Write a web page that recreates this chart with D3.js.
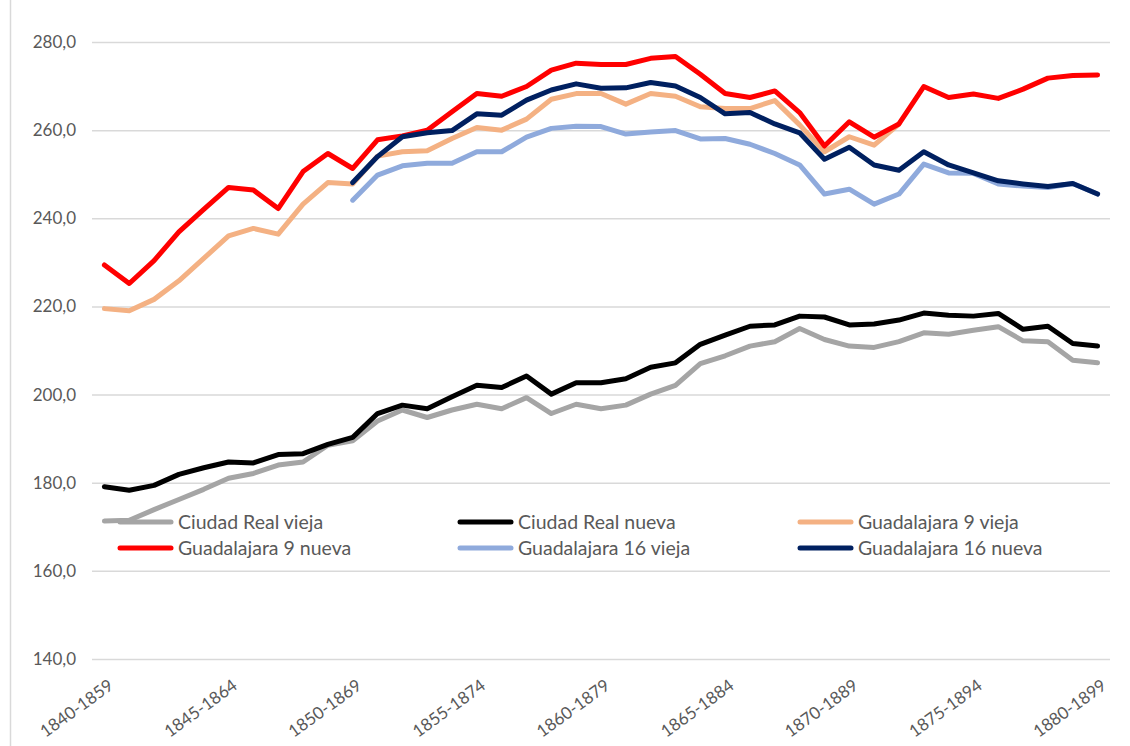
<!DOCTYPE html>
<html>
<head>
<meta charset="utf-8">
<script src="https://cdn.jsdelivr.net/npm/d3@7"></script>
<style>
  body { margin: 0; background: #fff; }
  svg { display: block; font-family: Lato, "Liberation Sans", sans-serif; }
</style>
</head>
<body>
<div class="dataviz"><svg></svg></div>
<script>
const categorias = [
    "1840-1859", "1841-1860", "1842-1861", "1843-1862", "1844-1863",
    "1845-1864", "1846-1865", "1847-1866", "1848-1867", "1849-1868",
    "1850-1869", "1851-1870", "1852-1871", "1853-1872", "1854-1873",
    "1855-1874", "1856-1875", "1857-1876", "1858-1877", "1859-1878",
    "1860-1879", "1861-1880", "1862-1881", "1863-1882", "1864-1883",
    "1865-1884", "1866-1885", "1867-1886", "1868-1887", "1869-1888",
    "1870-1889", "1871-1890", "1872-1891", "1873-1892", "1874-1893",
    "1875-1894", "1876-1895", "1877-1896", "1878-1897", "1879-1898",
    "1880-1899"
]

const ciudadRealVieja = [171.3, 171.5, 173.9, 176.2, 178.5, 181.0, 182.1, 184.0, 184.7, 188.5,
    189.5, 194.0, 196.5, 194.8, 196.5, 197.8, 196.8, 199.3, 195.7, 197.8,
    196.8, 197.6, 200.1, 202.1, 207.0, 208.8, 211.0, 212.0, 215.0, 212.5,
    211.0, 210.7, 212.0, 214.0, 213.7, 214.6, 215.4, 212.2, 212.0, 207.8, 207.2]

const ciudadRealNueva = [179.1, 178.3, 179.4, 181.9, 183.4, 184.7, 184.5, 186.4, 186.6, 188.7,
    190.3, 195.7, 197.6, 196.8, 199.5, 202.1, 201.6, 204.2, 200.1, 202.7,
    202.7, 203.6, 206.2, 207.2, 211.4, 213.5, 215.5, 215.8, 217.8, 217.6,
    215.8, 216.0, 216.9, 218.5, 218.0, 217.8, 218.4, 214.8, 215.5, 211.6, 211.0]

const guada9Vieja = [219.5, 219.0, 221.6, 225.8, 230.9, 236.0, 237.7, 236.4, 243.2, 248.1,
    247.8, 254.1, 255.1, 255.3, 258.1, 260.6, 260.0, 262.5, 267.0, 268.3,
    268.3, 265.9, 268.3, 267.7, 265.3, 264.9, 264.9, 266.7, 261.2, 255.1,
    258.5, 256.6, 261.4, null, null, null, null, null, null, null, null]

const guada9Nueva = [229.4, 225.2, 230.4, 236.9, 242.0, 247.0, 246.4, 242.2, 250.6, 254.7,
    251.3, 257.8, 258.7, 260.0, 264.2, 268.3, 267.7, 269.9, 273.6, 275.2,
    274.9, 274.9, 276.3, 276.7, 272.7, 268.3, 267.4, 268.9, 264.0, 256.4,
    261.9, 258.4, 261.4, 269.9, 267.4, 268.2, 267.2, 269.3, 271.8, 272.4, 272.5]

const guada16Vieja = [null, null, null, null, null, null, null, null, null, null,
    244.1, 249.8, 251.9, 252.5, 252.5, 255.1, 255.1, 258.4, 260.4, 260.9,
    260.8, 259.1, 259.6, 259.9, 258.0, 258.1, 256.8, 254.7, 252.1, 245.5,
    246.6, 243.2, 245.5, 252.3, 250.3, 250.2, 247.8, 247.3, 247.0, 247.9, 245.5]

const guada16Nueva = [null, null, null, null, null, null, null, null, null, null,
    248.1, 254.0, 258.5, 259.4, 259.9, 263.7, 263.4, 266.8, 269.1, 270.5,
    269.5, 269.6, 270.8, 270.0, 267.4, 263.7, 264.0, 261.4, 259.4, 253.4,
    256.1, 252.1, 250.9, 255.1, 252.1, 250.3, 248.5, 247.8, 247.2, 247.9, 245.5]

const nombres = ["Ciudad Real vieja", "Ciudad Real nueva", "Guadalajara 9 vieja",
    "Guadalajara 9 nueva", "Guadalajara 16 vieja", "Guadalajara 16 nueva"]
const colores = ["#a5a5a5", "#000000", "#f4b183", "#ff0000", "#8faadc", "#002060"]
const yTicks = [140, 160, 180, 200, 220, 240, 260, 280]

var width = 1130,
    height = 746
var margin = { top: 42, right: 20, bottom: 87, left: 92 }

var series = [ciudadRealVieja, ciudadRealNueva, guada9Vieja, guada9Nueva, guada16Vieja, guada16Nueva]
    .map((vals, k) => ({ nombre: nombres[k], color: colores[k], vals: vals }))

var coma = d3.formatLocale({ decimal: ",", thousands: ".", grouping: [3], currency: ["", "€"] }).format(".1f")

var x = d3.scaleBand()
    .domain(categorias)
    .range([margin.left, width - margin.right])
    .padding(0)
var y = d3.scaleLinear()
    .domain([140, 280])
    .range([height - margin.bottom, margin.top])

var svg = d3.select(".dataviz > svg")
    .attr("width", width)
    .attr("height", height)
    .attr("viewBox", [0, 0, width, height])

// borde izquierdo del area del grafico
svg.append("line")
    .attr("x1", 10.5).attr("x2", 10.5)
    .attr("y1", 0).attr("y2", height)
    .attr("stroke", "#d9d9d9")
    .attr("stroke-width", 1.5)

// eje y con lineas de rejilla
svg.append("g")
    .attr("transform", `translate(${margin.left},0)`)
    .call(d3.axisLeft(y).tickValues(yTicks).tickFormat(coma)
        .tickSize(-(width - margin.left - margin.right)).tickPadding(16))
    .call(g => g.select(".domain").remove())
    .call(g => g.selectAll(".tick line").attr("stroke", "#d9d9d9").attr("stroke-width", 1.5))
    .call(g => g.selectAll(".tick text")
        .attr("fill", "#595959")
        .attr("font-size", "17px")
        .attr("font-family", "Lato, 'Liberation Sans', sans-serif"))

// eje x, etiqueta cada 5 categorias
var xAxis = svg.append("g")
    .attr("transform", `translate(0,${height - margin.bottom})`)
    .call(d3.axisBottom(x).tickValues(categorias.filter((d, i) => i % 5 == 0)).tickSize(0))
xAxis.select(".domain").remove()
xAxis.selectAll(".tick text")
    .attr("fill", "#595959")
    .attr("font-size", "17px")
    .attr("font-family", "Lato, 'Liberation Sans', sans-serif")
    .attr("text-anchor", "end")
    .attr("dy", null)
    .attr("y", 0)
    .attr("transform", "translate(10,29) rotate(-36)")

var line = d3.line()
    .defined(d => d != null)
    .x((d, i) => x(categorias[i]) + x.bandwidth() / 2)
    .y(d => y(d))

svg.append("g")
    .attr("fill", "none")
    .attr("stroke-width", 5)
    .attr("stroke-linejoin", "round")
    .attr("stroke-linecap", "round")
    .selectAll("path")
    .data(series)
    .join("path")
    .attr("stroke", d => d.color)
    .attr("d", d => line(d.vals))

// leyenda, 3 columnas x 2 filas
var leyenda = svg.append("g")
    .selectAll("g")
    .data(series)
    .join("g")
    .attr("transform", (d, i) => `translate(${118 + (i % 3) * 340},${522 + Math.floor(i / 3) * 26})`)
leyenda.append("line")
    .attr("x1", 2).attr("x2", 53)
    .attr("stroke", d => d.color)
    .attr("stroke-width", 5)
    .attr("stroke-linecap", "round")
leyenda.append("text")
    .attr("x", 60)
    .attr("dy", "0.35em")
    .attr("fill", "#595959")
    .attr("font-size", "19.5px")
    .text(d => d.nombre)
</script>
</body>
</html>
